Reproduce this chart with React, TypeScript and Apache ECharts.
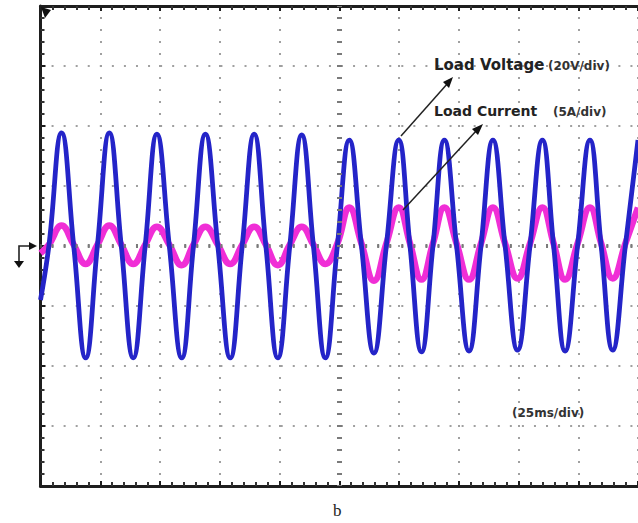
import React, { useEffect, useRef } from "react";
import * as echarts from "echarts";

// Time samples (ms, 25 ms/div) read at zero crossings, peaks and troughs
const timeMs = [
  0, 3.5,
  8.8, 13.9, 18.9, 23.8,
  28.8, 33.8, 38.8, 43.8,
  48.7, 53.9, 59.1, 64.0,
  69.0, 74.2, 79.4, 84.4,
  89.4, 94.3, 99.3, 104.3,
  109.3, 114.2, 119.2, 124.2,
  129.2, 134.3, 139.5, 144.7,
  149.9, 154.6, 159.4, 164.2,
  169.0, 174.1, 179.3, 184.3,
  189.3, 194.4, 199.6, 204.8,
  210.0, 214.7, 219.5, 224.7,
  229.9, 234.6, 239.4, 244.7,
  250,
];

// Load voltage (V, 20 V/div)
const loadVoltage = [
  -18, 0,
  37.7, 0, -37.3, 0,
  37.7, 0, -37.3, 0,
  37.3, 0, -37.3, 0,
  37.3, 0, -37.3, 0,
  37.3, 0, -37.3, 0,
  37.0, 0, -37.3, 0,
  35.3, 0, -35.7, 0,
  35.3, 0, -35.3, 0,
  35.3, 0, -35.0, 0,
  35.3, 0, -34.7, 0,
  35.3, 0, -35.0, 0,
  35.3, 0, -34.7, 0,
  35.3,
];

// Load current (A, 5 A/div)
const loadCurrent = [
  -0.6, 0.1,
  1.7, 0.1, -1.5, 0.1,
  1.7, 0.1, -1.5, 0.1,
  1.6, 0.1, -1.6, 0.1,
  1.6, 0.1, -1.5, 0.1,
  1.6, 0.1, -1.6, 0.1,
  1.6, 0.1, -1.5, 0.2,
  3.2, 0.2, -2.9, 0.2,
  3.2, 0.2, -2.8, 0.2,
  3.2, 0.2, -2.8, 0.2,
  3.2, 0.2, -2.7, 0.2,
  3.2, 0.2, -2.8, 0.2,
  3.2, 0.2, -2.7, 0.2,
  3.2,
];

const TIME_RANGE = [0, 250];
const TIME_DIV = 25;
const TIME_CENTER = 125;
const VOLT_RANGE = [-80, 80];
const VOLT_DIV = 20;
const AMP_RANGE = [-20, 20];
const AMP_DIV = 5;

const BORDER = "#1e1e1e";
const DOT = "#a0a0a0";
const CENTER = "#7a7a7a";

export default function App() {
  const ref = useRef<HTMLDivElement>(null);

  useEffect(() => {
    document.body.style.margin = "0";
    if (!ref.current) return;
    const chart = echarts.init(ref.current, undefined, { renderer: "svg" });

    const borderAxis = (position: string) => ({
      position,
      axisLine: { show: true, onZero: false, lineStyle: { color: BORDER, width: 3 } },
      axisTick: { show: true, inside: true, length: 5, lineStyle: { color: BORDER, width: 2 } },
      minorTick: { show: true, splitNumber: 5, length: 4, lineStyle: { color: "#333", width: 2 } },
      axisLabel: { show: false },
    });

    const option: any = {
      animation: false,
      backgroundColor: "#ffffff",
      grid: { left: 40.5, top: 6, width: 603, height: 480 },
      xAxis: [
        {
          type: "value",
          min: TIME_RANGE[0],
          max: TIME_RANGE[1],
          interval: TIME_DIV,
          ...borderAxis("bottom"),
          splitLine: {
            show: true,
            lineStyle: { color: DOT, width: 2, type: [2, 10], dashOffset: 1 },
          },
        },
        {
          type: "value",
          min: TIME_RANGE[0],
          max: TIME_RANGE[1],
          interval: TIME_DIV,
          ...borderAxis("top"),
          splitLine: { show: false },
        },
      ],
      yAxis: [
        {
          type: "value",
          min: VOLT_RANGE[0],
          max: VOLT_RANGE[1],
          interval: VOLT_DIV,
          ...borderAxis("left"),
          splitLine: {
            show: true,
            lineStyle: { color: DOT, width: 2, type: [2, 10.06], dashOffset: 1 },
          },
        },
        {
          type: "value",
          min: AMP_RANGE[0],
          max: AMP_RANGE[1],
          interval: AMP_DIV,
          show: false,
          splitLine: { show: false },
        },
      ],
      series: [
        {
          name: "Center",
          type: "line",
          xAxisIndex: 0,
          yAxisIndex: 0,
          data: [[TIME_CENTER, 0]],
          symbol: "none",
          showSymbol: false,
          lineStyle: { opacity: 0 },
          silent: true,
          z: 2,
          markLine: {
            silent: true,
            symbol: ["none", "none"],
            label: { show: false },
            lineStyle: { color: CENTER, width: 5, type: [2, 10], dashOffset: 1 },
            data: [
              { xAxis: TIME_CENTER, lineStyle: { color: CENTER, width: 5, type: [2, 10], dashOffset: 1 } },
              { yAxis: 0, lineStyle: { color: CENTER, width: 4, type: [2, 10.06], dashOffset: 1 } },
            ],
          },
        },
        {
          name: "Load Current",
          type: "line",
          xAxisIndex: 0,
          yAxisIndex: 1,
          data: timeMs.map((t, i) => [t, loadCurrent[i]]),
          smooth: 0.45,
          showSymbol: false,
          symbol: "none",
          lineStyle: { color: "#f02ed6", width: 6.5 },
          z: 3,
        },
        {
          name: "Load Voltage",
          type: "line",
          xAxisIndex: 0,
          yAxisIndex: 0,
          data: timeMs.map((t, i) => [t, loadVoltage[i]]),
          smooth: 0.45,
          showSymbol: false,
          symbol: "none",
          lineStyle: { color: "#2424c8", width: 4.8 },
          z: 4,
        },
      ],
      graphic: [
        {
          type: "text",
          x: 434,
          y: 64.5,
          style: {
            text: "Load Voltage",
            font: "bold 15px 'DejaVu Sans'",
            fill: "#222",
            verticalAlign: "middle",
          },
          z: 10,
        },
        {
          type: "text",
          x: 548,
          y: 65.5,
          style: {
            text: "(20V/div)",
            font: "bold 12px 'DejaVu Sans'",
            fill: "#333",
            verticalAlign: "middle",
          },
          z: 10,
        },
        {
          type: "text",
          x: 434,
          y: 111,
          style: {
            text: "Load Current",
            font: "bold 14px 'DejaVu Sans'",
            fill: "#222",
            verticalAlign: "middle",
          },
          z: 10,
        },
        {
          type: "text",
          x: 553,
          y: 111.5,
          style: {
            text: "(5A/div)",
            font: "bold 12px 'DejaVu Sans'",
            fill: "#333",
            verticalAlign: "middle",
          },
          z: 10,
        },
        {
          type: "text",
          x: 512,
          y: 412.5,
          style: {
            text: "(25ms/div)",
            font: "bold 12px 'DejaVu Sans'",
            fill: "#333",
            verticalAlign: "middle",
          },
          z: 10,
        },
        {
          type: "text",
          x: 333,
          y: 502,
          style: {
            text: "b",
            font: "17px 'Liberation Serif'",
            fill: "#222",
            verticalAlign: "top",
          },
          z: 10,
        },
        // annotation arrows
        {
          type: "line",
          shape: { x1: 401, y1: 136, x2: 448, y2: 83 },
          style: { stroke: "#222", lineWidth: 1.5 },
          z: 10,
        },
        {
          type: "polygon",
          shape: { points: [[453, 77], [443, 82], [449, 88]] },
          style: { fill: "#111" },
          z: 10,
        },
        {
          type: "line",
          shape: { x1: 403, y1: 210, x2: 477, y2: 130 },
          style: { stroke: "#222", lineWidth: 1.5 },
          z: 10,
        },
        {
          type: "polygon",
          shape: { points: [[483, 124], [472, 129], [478, 135]] },
          style: { fill: "#111" },
          z: 10,
        },
        // ground reference marker
        {
          type: "polyline",
          shape: { points: [[19, 262], [19, 246], [31, 246]] },
          style: { stroke: "#222", lineWidth: 1.6, fill: "none" },
          z: 10,
        },
        {
          type: "polygon",
          shape: { points: [[29, 242], [37, 246], [29, 250]] },
          style: { fill: "#111" },
          z: 10,
        },
        {
          type: "polygon",
          shape: { points: [[14, 261], [24, 261], [19, 268]] },
          style: { fill: "#111" },
          z: 10,
        },
        // trigger marker
        {
          type: "polygon",
          shape: { points: [[41, 7], [51, 10], [45, 18]] },
          style: { fill: "#111" },
          z: 10,
        },
      ],
    };

    chart.setOption(option);
    return () => chart.dispose();
  }, []);

  return <div ref={ref} style={{ width: 638, height: 523 }} />;
}
